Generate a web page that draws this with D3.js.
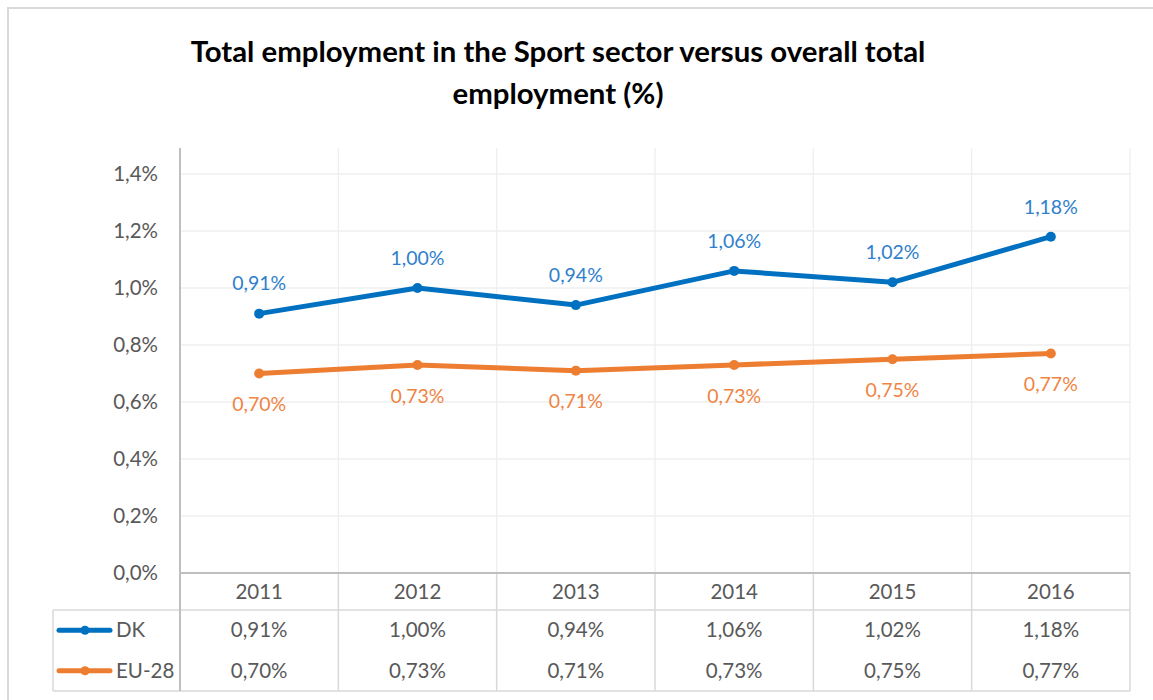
<!DOCTYPE html>
<html>
<head>
<meta charset="utf-8">
<script src="https://cdn.jsdelivr.net/npm/d3@7/dist/d3.min.js"></script>
<style>
  html, body { margin: 0; padding: 0; background: #fff; }
  svg { display: block; font-family: Lato, "Open Sans", sans-serif; }
</style>
</head>
<body>
<svg id="chart" width="1153" height="700"></svg>
<script>
// Share of total employment in the sport sector (%)
const years = ["2011", "2012", "2013", "2014", "2015", "2016"];
const dkValues = [0.91, 1.00, 0.94, 1.06, 1.02, 1.18];
const euValues = [0.70, 0.73, 0.71, 0.73, 0.75, 0.77];
const seriesNames = ["DK", "EU-28"];
const yTicks = [0, 0.2, 0.4, 0.6, 0.8, 1.0, 1.2, 1.4];
const titleLines = ["Total employment in the Sport sector versus overall total", "employment (%)"];

const colors = { DK: "#0070C0", "EU-28": "#ED7D31" };
const labelColors = { DK: "#2E80CC", "EU-28": "#EF8443" };
const textGray = "#595959";

const svg = d3.select("#chart");

// chart frame
svg.append("rect").attr("x", 8).attr("y", 8).attr("width", 1160).attr("height", 710)
  .attr("fill", "#fff").attr("stroke", "#d9d9d9").attr("stroke-width", 2);

const plot = { left: 180, right: 1130, top: 148, bottom: 573 };
const table = { left: 53, headerBottom: 610, rowH: 40.5 };

const x = d3.scaleBand().domain(years).range([plot.left, plot.right]).padding(0);
const y = d3.scaleLinear().domain([0, 1.4]).range([plot.bottom, 174]);

const comma = v => v.replace(".", ",");
const fmtTick = v => comma(d3.format(".1f")(v)) + "%";
const fmtVal = v => comma(d3.format(".2f")(v)) + "%";

// title
const title = svg.append("g").attr("font-weight", "bold").attr("fill", "#000");
titleLines.forEach((t, i) => {
  title.append("text").attr("x", 558).attr("y", 62 + i * 42)
    .attr("text-anchor", "middle").attr("font-size", 26).text(t);
});
{
  const first = title.select("text").node();
  const w = first.getComputedTextLength();
  const fs = 26 * 735 / w;
  title.selectAll("text").attr("font-size", fs);
}

// horizontal gridlines
svg.append("g").selectAll("line").data(yTicks.filter(d => d > 0)).join("line")
  .attr("x1", plot.left).attr("x2", plot.right)
  .attr("y1", d => y(d)).attr("y2", d => y(d))
  .attr("stroke", "#efefef").attr("stroke-width", 1.3);

// vertical gridlines at band edges (plot area)
const edges = years.slice(1).map(c => x(c)).concat([plot.right]);
svg.append("g").selectAll("line").data(edges).join("line")
  .attr("x1", d => d).attr("x2", d => d)
  .attr("y1", plot.top).attr("y2", plot.bottom)
  .attr("stroke", "#efefef").attr("stroke-width", 1.3);

// y axis labels
const yAxis = d3.axisLeft(y).tickValues(yTicks).tickFormat(fmtTick).tickSize(0).tickPadding(22);
const ya = svg.append("g").attr("transform", `translate(${plot.left},0)`).call(yAxis);
ya.select(".domain").remove();
ya.selectAll("text").attr("font-size", 20.5).attr("fill", textGray).attr("font-family", "Lato, sans-serif");

// data table grid
const tableBottom = table.headerBottom + table.rowH * 2;
const tg = svg.append("g").attr("stroke", "#d9d9d9").attr("stroke-width", 1.5);
edges.forEach(e => {
  tg.append("line").attr("x1", e).attr("x2", e).attr("y1", plot.bottom).attr("y2", tableBottom);
});
tg.append("line").attr("x1", table.left).attr("x2", plot.right)
  .attr("y1", table.headerBottom).attr("y2", table.headerBottom);
tg.append("line").attr("x1", table.left).attr("x2", plot.right)
  .attr("y1", tableBottom).attr("y2", tableBottom);
tg.append("line").attr("x1", table.left).attr("x2", table.left)
  .attr("y1", table.headerBottom).attr("y2", tableBottom);

// axis lines
svg.append("line").attr("x1", plot.left).attr("x2", plot.right)
  .attr("y1", plot.bottom).attr("y2", plot.bottom)
  .attr("stroke", "#bfbfbf").attr("stroke-width", 2);
svg.append("line").attr("x1", plot.left).attr("x2", plot.left)
  .attr("y1", plot.top).attr("y2", tableBottom)
  .attr("stroke", "#bfbfbf").attr("stroke-width", 2);

// category header row
const xAxis = d3.axisBottom(x).tickSize(0).tickPadding(0);
const xa = svg.append("g").attr("transform", `translate(0,${plot.bottom})`).call(xAxis);
xa.select(".domain").remove();
xa.selectAll("text").attr("y", 26).attr("dy", 0).attr("font-size", 20.5)
  .attr("fill", textGray).attr("font-family", "Lato, sans-serif");

// series
const series = [
  { name: seriesNames[0], values: dkValues, labelDy: -30 },
  { name: seriesNames[1], values: euValues, labelDy: 31 }
];
const cx = d => x(d) + x.bandwidth() / 2;
const line = d3.line().x((d, i) => cx(years[i])).y(d => y(d));

series.forEach((s, si) => {
  const g = svg.append("g");
  g.append("path").datum(s.values).attr("d", line)
    .attr("fill", "none").attr("stroke", colors[s.name]).attr("stroke-width", 5)
    .attr("stroke-linejoin", "round").attr("stroke-linecap", "round");
  g.selectAll("circle").data(s.values).join("circle")
    .attr("cx", (d, i) => cx(years[i])).attr("cy", d => y(d)).attr("r", 5)
    .attr("fill", colors[s.name]);
  g.selectAll("text").data(s.values).join("text")
    .attr("x", (d, i) => cx(years[i])).attr("y", d => y(d) + s.labelDy)
    .attr("dy", "0.35em").attr("text-anchor", "middle")
    .attr("font-size", 19.5).attr("fill", labelColors[s.name]).text(fmtVal);

  // table row
  const rowY = table.headerBottom + table.rowH * si + table.rowH / 2;
  const row = svg.append("g");
  row.append("line").attr("x1", 59).attr("x2", 110).attr("y1", rowY).attr("y2", rowY)
    .attr("stroke", colors[s.name]).attr("stroke-width", 5).attr("stroke-linecap", "round");
  row.append("circle").attr("cx", 85).attr("cy", rowY).attr("r", 4.5).attr("fill", colors[s.name]);
  row.append("text").attr("x", 116).attr("y", rowY).attr("dy", "0.35em")
    .attr("font-size", 20.5).attr("fill", textGray).text(s.name);
  row.selectAll("text.v").data(s.values).join("text").attr("class", "v")
    .attr("x", (d, i) => cx(years[i])).attr("y", rowY).attr("dy", "0.35em")
    .attr("text-anchor", "middle").attr("font-size", 20.5).attr("fill", textGray).text(fmtVal);
});
</script>
</body>
</html>
